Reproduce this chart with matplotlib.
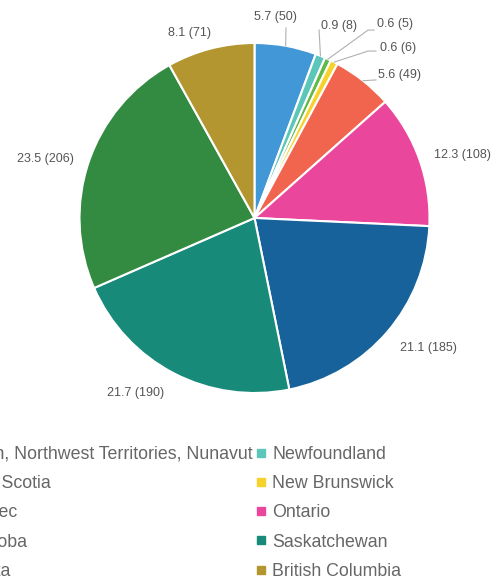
import numpy as np
import matplotlib.pyplot as plt
from matplotlib.lines import Line2D

plt.rcParams['font.family'] = ['Liberation Sans', 'DejaVu Sans']

provinces = ['Yukon, Northwest Territories, Nunavut', 'Newfoundland', 'Nova Scotia',
             'New Brunswick', 'Quebec', 'Ontario', 'Manitoba', 'Saskatchewan',
             'Alberta', 'British Columbia']
counts = [50, 8, 5, 6, 49, 108, 185, 190, 206, 71]
percents = [5.7, 0.9, 0.6, 0.6, 5.6, 12.3, 21.1, 21.7, 23.5, 8.1]
colors = ['#4298d6', '#5cc6ba', '#62b946', '#f6d22a', '#f1654f', '#ea479c',
          '#17629a', '#178a79', '#338b42', '#b3962f']

# label placement (pie radius units): anchor, alignment, leader elbow/end or None
label_pos = [(0.117, 1.149), (0.380, 1.097), (0.700, 1.109), (0.717, 0.971),
             (0.706, 0.817), (1.026, 0.360), (0.831, -0.743), (-0.517, -1.000),
             (-1.031, 0.337), (-0.249, 1.057)]
label_ha = ['center', 'left', 'left', 'left', 'left', 'left', 'left', 'right',
            'right', 'right']
leaders = [[(0.18, 1.086)], [(0.369, 1.074)], [(0.649, 1.074), (0.683, 1.074)],
           [(0.649, 0.954), (0.694, 0.954)], [(0.694, 0.789)],
           None, None, None, None, None]

W, H = 495, 580
cx, cy, R = 254.5, 218.0, 175.0
fig = plt.figure(figsize=(W / 100, H / 100), dpi=100)
ax = fig.add_axes([0, 0, 1, 1])

wedges, _ = ax.pie(counts, colors=colors, startangle=90, counterclock=False,
                   radius=1.0, wedgeprops=dict(edgecolor='white', linewidth=1.5))

for w, pct, n, pos, ha, lead in zip(wedges, percents, counts, label_pos, label_ha, leaders):
    if lead is not None:
        mid = np.deg2rad((w.theta1 + w.theta2) / 2)
        pts = [(np.cos(mid), np.sin(mid))] + lead
        xs, ys = zip(*pts)
        ax.plot(xs, ys, color='#b0b0b0', lw=0.8)
    ax.text(pos[0], pos[1], f'{pct} ({n})', ha=ha, va='center', fontsize=9,
            color='#555555')

ax.set_xlim(-cx / R, (W - cx) / R)
ax.set_ylim((cy - H) / R, cy / R)
ax.set_aspect('auto')
ax.axis('off')

handles = [Line2D([], [], marker='s', linestyle='none', markersize=5.5,
                  markerfacecolor=c, markeredgecolor=c) for c in colors]
order = [0, 2, 4, 6, 8, 1, 3, 5, 7, 9]
fig.legend([handles[i] for i in order], [provinces[i] for i in order], ncol=2,
           loc='upper left', bbox_to_anchor=(-70 / W, 1 - 437 / H), frameon=False,
           fontsize=12.8, labelcolor='#666666', handlelength=0.6, handletextpad=0.3,
           columnspacing=0.2, labelspacing=0.69, borderpad=0)

fig.savefig('out.png', dpi=100)
